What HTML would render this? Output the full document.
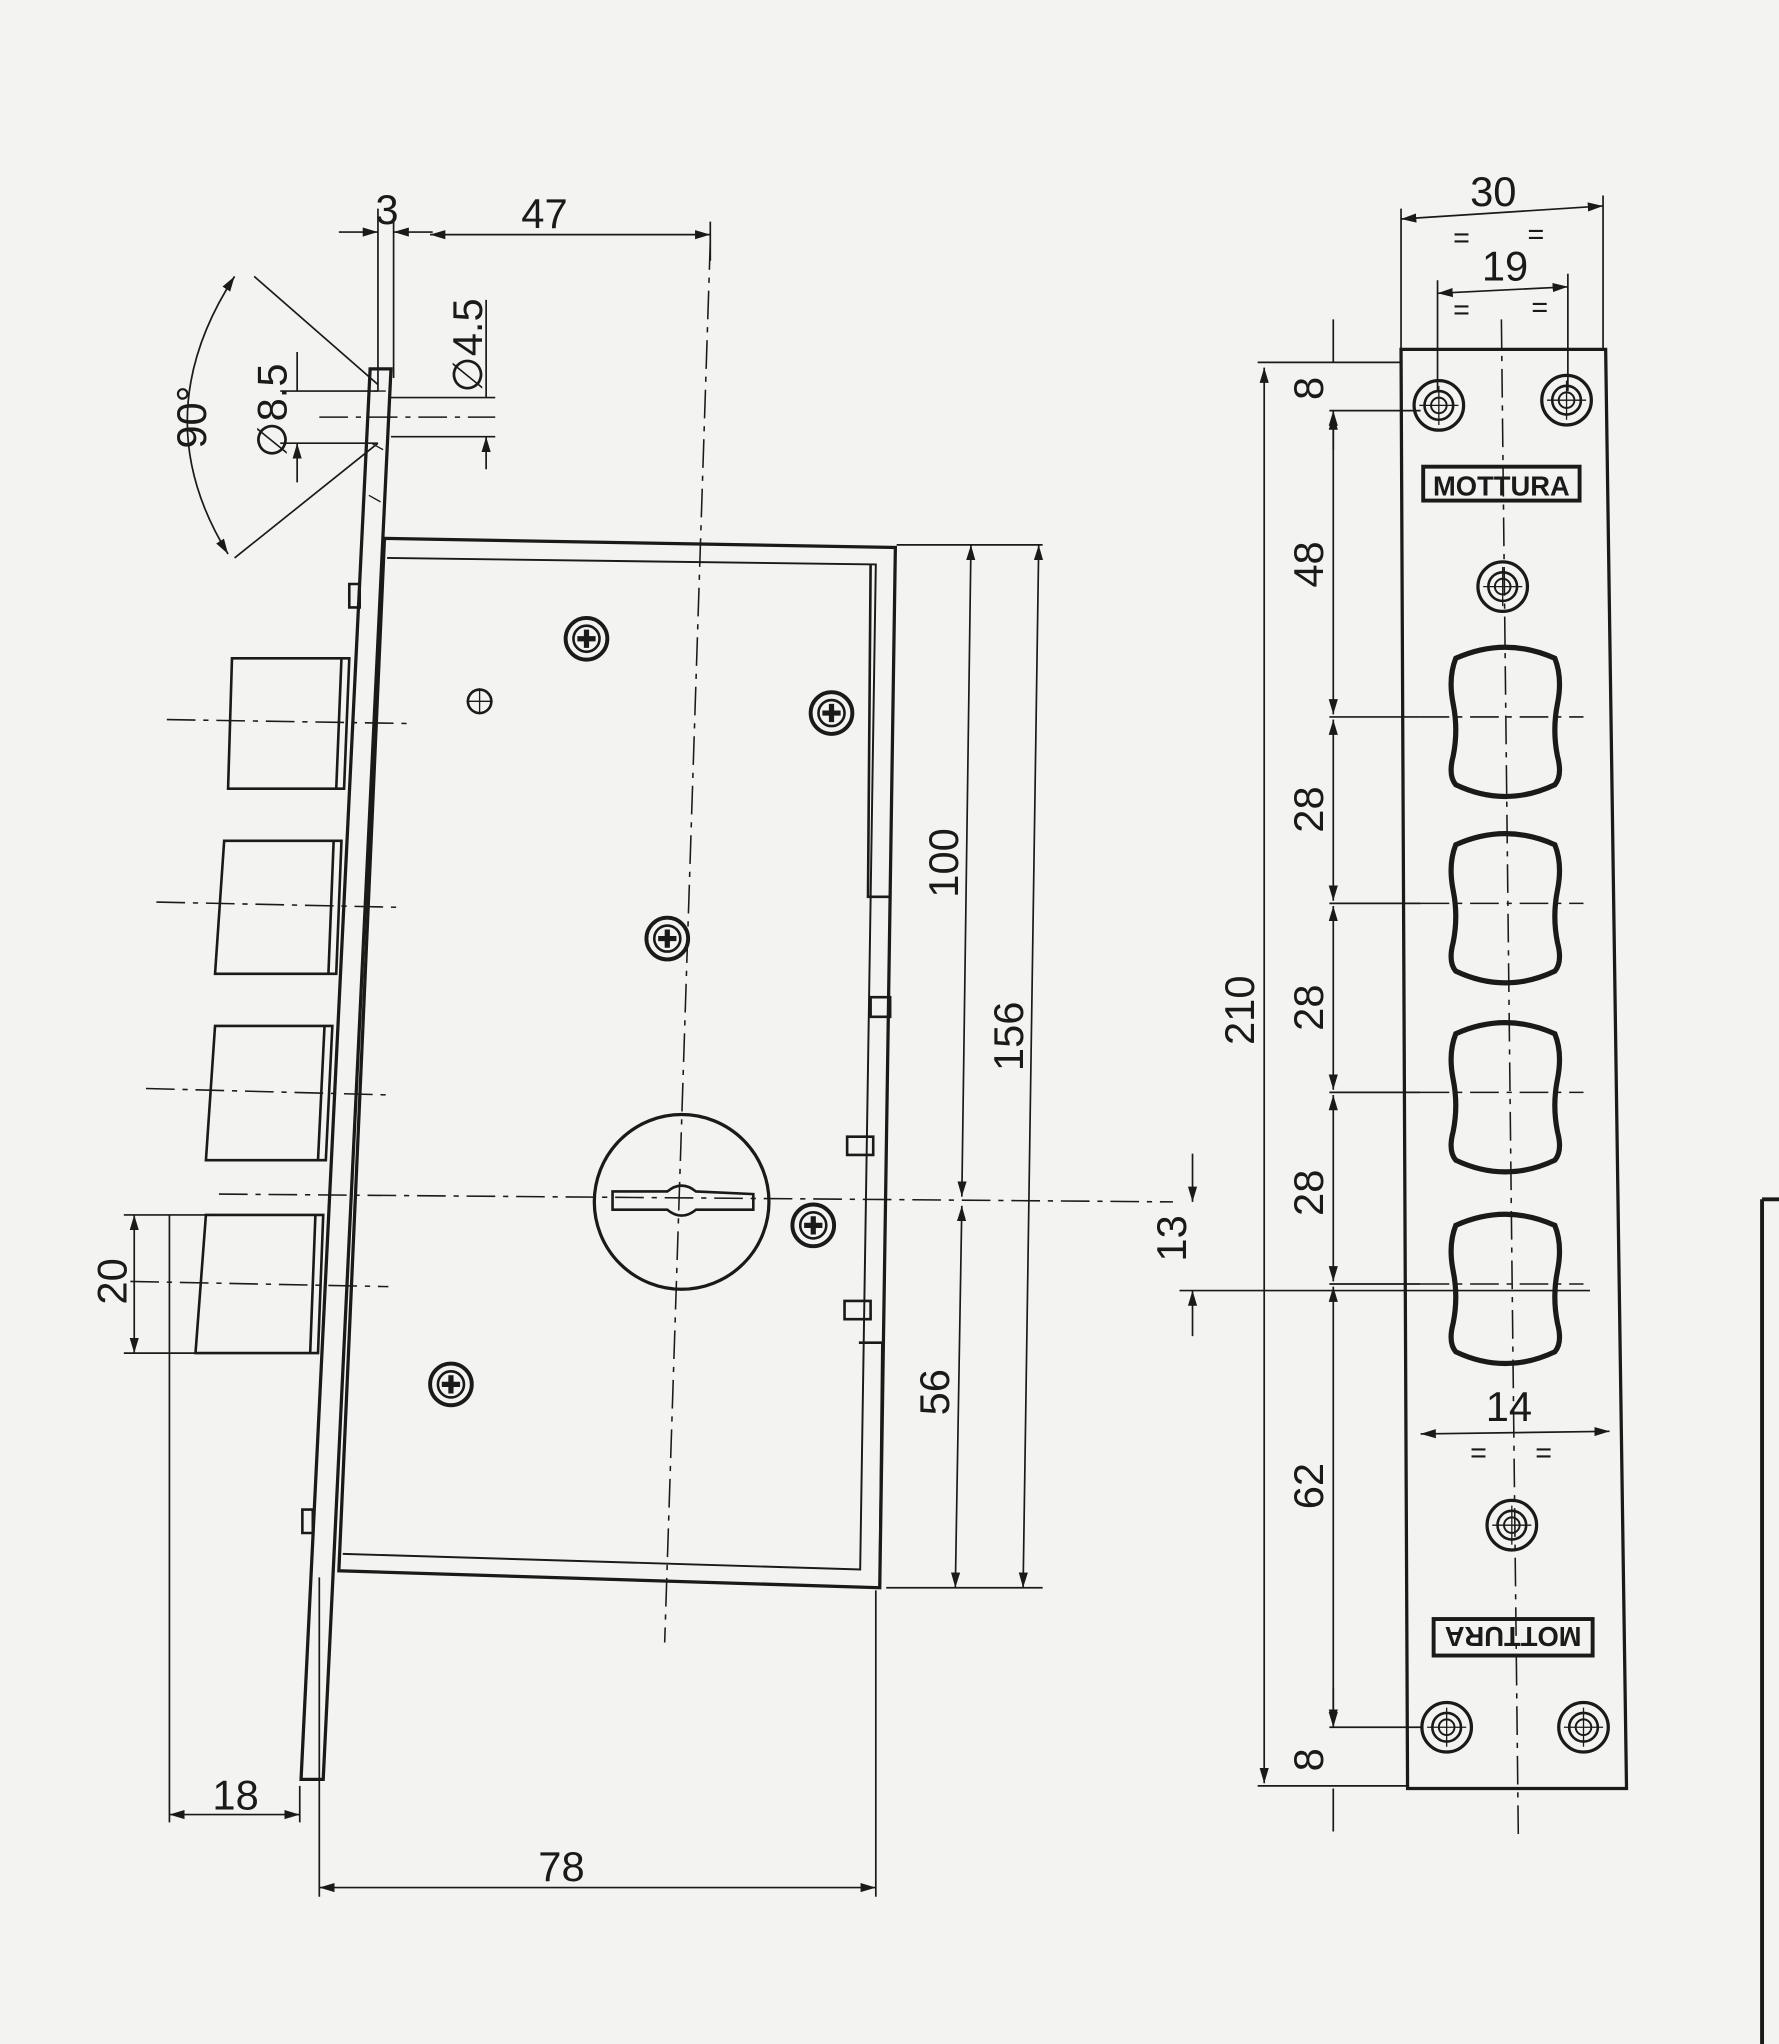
<!DOCTYPE html>
<html><head><meta charset="utf-8"><style>
html,body{margin:0;padding:0;background:#f3f3f1;}
svg{display:block;}
text{font-family:"Liberation Sans",sans-serif;fill:#1a1a1a;}
</style></head><body>
<svg width="1779" height="2044" viewBox="0 0 1365 1568" preserveAspectRatio="none" xmlns="http://www.w3.org/2000/svg">
<defs>
<marker id="a" viewBox="0 0 10 10" refX="10" refY="5" markerWidth="9" markerHeight="9" orient="auto-start-reverse"><path d="M0,2 L10,5 L0,8 z" fill="#1a1a1a"/></marker>
<g id="scr"><circle r="16" fill="none" stroke="#1a1a1a" stroke-width="3"/><circle r="10" fill="none" stroke="#1a1a1a" stroke-width="2"/><path d="M-7,0H7M0,-7V7" stroke="#1a1a1a" stroke-width="4"/></g>
<g id="hole"><circle r="19" fill="none" stroke="#1a1a1a" stroke-width="2.5"/><circle r="11" fill="none" stroke="#1a1a1a" stroke-width="2"/><circle r="6" fill="none" stroke="#1a1a1a" stroke-width="1.5"/><path d="M-15,0H15M0,-15V15" stroke="#1a1a1a" stroke-width="1"/></g>
<g id="slot"><path d="M-38,-45 Q0,-62 38,-45 Q44,-30 40,-10 Q36,10 40,30 Q44,45 38,52 Q0,70 -38,52 Q-44,45 -40,30 Q-36,10 -40,-10 Q-44,-30 -38,-45z" fill="none" stroke="#1a1a1a" stroke-width="4"/></g>
</defs>
<g stroke="#1a1a1a" fill="none" stroke-width="2">
<polygon points="284,283 300,283 248,1365 231,1365" stroke-width="2.5"/>
<path d="M287,300 L296,300 M285,340 L294,345 M283,380 L292,385" stroke-width="1"/>
<polygon points="295,413 687,420 675,1218 260,1205" stroke-width="2.5"/>
<polyline points="297,428 672,433 660,1204 263,1192" stroke-width="1.5"/>
<path d="M668,433 L666,688 L684,688 M659,1030 L677,1030 L675,1218" stroke-width="2"/>
<path d="M668,765 h15 v15 h-15 z M650,872 h20 v14 h-20 z M648,998 h20 v14 h-20 z M268,448 h8 v18 h-8 z M232,1158 h8 v18 h-8 z" stroke-width="2"/>
<polygon points="178,505 268,505 264,605 175,605"/><path d="M262,505 L258,605" />
<polygon points="172,645 262,645 258,747 165,747"/><path d="M256,645 L252,747"/>
<polygon points="165,787 255,787 250,890 158,890"/><path d="M249,787 L244,890"/>
<polygon points="158,932 248,932 244,1038 150,1038"/><path d="M242,932 L238,1038"/>
<g stroke-dasharray="22,6,4,6" stroke-width="1.2">
<path d="M128,552 L312,555"/><path d="M120,692 L305,696"/><path d="M112,835 L300,840"/><path d="M100,983 L298,987"/>
<path d="M168,916 L900,922"/><path d="M545,185 L510,1260"/><path d="M245,320 L380,320"/>
<path d="M1152,245 L1165,1410"/>
<path d="M1090,550 L1215,550 M1090,693 L1215,693 M1090,838 L1215,838 M1090,985 L1215,985"/>
</g>
<circle cx="523" cy="922" r="67" stroke-width="2.5"/>
<path d="M470,914 L512,914 Q523,905 534,914 L578,916 L578,928 L534,928 Q523,937 512,928 L470,928 z" stroke-width="2"/>
<g stroke-width="1.3">
<path d="M290,160 L290,300 M302,170 L302,290 M545,170 L545,200"/>
<path d="M260,178 L290,178" marker-end="url(#a)"/>
<path d="M330,180 L545,180" marker-start="url(#a)" marker-end="url(#a)"/>
<path d="M332,178 L302,178" marker-end="url(#a)"/>
<path d="M195,212 L290,295 M180,428 L290,340"/>
<path d="M180,212 Q110,320 175,425" marker-start="url(#a)" marker-end="url(#a)"/>
<path d="M215,300 L290,300 M215,340 L290,340"/>
<path d="M228,270 L228,300 M228,370 L228,340" marker-end="url(#a)"/>
<path d="M300,305 L380,305 M300,335 L380,335"/>
<path d="M373,230 L373,305 M373,360 L373,335" marker-end="url(#a)"/>
<path d="M688,418 L800,418 M680,1218 L800,1218"/>
<path d="M745,418 L738,918" marker-start="url(#a)" marker-end="url(#a)"/>
<path d="M797,418 L785,1218" marker-start="url(#a)" marker-end="url(#a)"/>
<path d="M738,925 L733,1218" marker-start="url(#a)" marker-end="url(#a)"/>
<path d="M95,932 L160,932 M95,1038 L152,1038"/>
<path d="M103,932 L103,1038" marker-start="url(#a)" marker-end="url(#a)"/>
<path d="M130,932 L130,1398 M230,1370 L230,1398"/>
<path d="M130,1392 L230,1392" marker-start="url(#a)" marker-end="url(#a)"/>
<path d="M245,1210 L245,1455 M672,1220 L672,1455"/>
<path d="M245,1448 L672,1448" marker-start="url(#a)" marker-end="url(#a)"/>
<path d="M905,990 L1220,990"/>
<path d="M915,885 L915,922" marker-end="url(#a)"/>
<path d="M915,1025 L915,990" marker-end="url(#a)"/>
<path d="M1075,160 L1075,268 M1230,150 L1230,268 M1103,215 L1103,300 M1203,210 L1203,300"/>
<path d="M1075,168 L1230,158" marker-start="url(#a)" marker-end="url(#a)"/>
<path d="M1103,225 L1203,220" marker-start="url(#a)" marker-end="url(#a)"/>
<path d="M965,278 L1075,278 M1020,315 L1090,315 M1020,550 L1090,550 M1020,693 L1090,693 M1020,838 L1090,838 M1020,985 L1090,985 M1020,1325 L1090,1325 M965,1370 L1080,1370"/>
<path d="M970,282 L970,1368" marker-start="url(#a)" marker-end="url(#a)"/>
<path d="M1023,245 L1023,278 M1023,345 L1023,315" marker-end="url(#a)"/>
<path d="M1023,318 L1023,548" marker-start="url(#a)" marker-end="url(#a)"/>
<path d="M1023,552 L1023,691" marker-start="url(#a)" marker-end="url(#a)"/>
<path d="M1023,695 L1023,836" marker-start="url(#a)" marker-end="url(#a)"/>
<path d="M1023,840 L1023,983" marker-start="url(#a)" marker-end="url(#a)"/>
<path d="M1023,987 L1023,1323" marker-start="url(#a)" marker-end="url(#a)"/>
<path d="M1023,1405 L1023,1372 M1023,1295 L1023,1325" marker-end="url(#a)"/>
<path d="M1090,1100 L1235,1098" marker-start="url(#a)" marker-end="url(#a)"/>
</g>
<polygon points="1075,268 1232,268 1248,1372 1080,1372" stroke-width="2.5"/>
<rect x="1092" y="358" width="120" height="26" stroke-width="3"/>
<rect x="1100" y="1242" width="122" height="28" stroke-width="3"/>
<path d="M1352,920 L1365,920 M1352,920 L1352,1568" stroke-width="3"/>
</g>
<use href="#scr" x="450" y="490"/><use href="#scr" x="638" y="547"/><use href="#scr" x="512" y="720"/><use href="#scr" x="624" y="940"/><use href="#scr" x="346" y="1062"/>
<g stroke="#1a1a1a" fill="none"><circle cx="368" cy="538" r="9" stroke-width="2"/><path d="M358,538h20M368,528v20" stroke-width="1"/></g>
<use href="#hole" x="1104" y="311"/><use href="#hole" x="1202" y="307"/><use href="#hole" x="1153" y="450"/><use href="#hole" x="1160" y="1170"/><use href="#hole" x="1110" y="1325"/><use href="#hole" x="1215" y="1325"/>
<use href="#slot" x="1155" y="550"/><use href="#slot" x="1155" y="693"/><use href="#slot" x="1155" y="838"/><use href="#slot" x="1155" y="985"/>
<text x="1152" y="380" font-size="21" font-weight="bold" text-anchor="middle">MOTTURA</text>
<text x="1161" y="1264" font-size="21" font-weight="bold" text-anchor="middle" transform="rotate(180 1161 1256)">MOTTURA</text>
<g font-size="32">
<text x="288" y="172">3</text><text x="400" y="175">47</text>
<text transform="translate(158,320) rotate(-90)" text-anchor="middle">90°</text>
<text transform="translate(220,315) rotate(-90)" text-anchor="middle">∅8.5</text>
<text transform="translate(370,265) rotate(-90)" text-anchor="middle">∅4.5</text>
<text transform="translate(735,662) rotate(-90)" text-anchor="middle">100</text>
<text transform="translate(785,795) rotate(-90)" text-anchor="middle">156</text>
<text transform="translate(728,1068) rotate(-90)" text-anchor="middle">56</text>
<text transform="translate(97,983) rotate(-90)" text-anchor="middle">20</text>
<text x="163" y="1388">18</text><text x="413" y="1443">78</text>
<text transform="translate(910,950) rotate(-90)" text-anchor="middle">13</text>
<text transform="translate(962,775) rotate(-90)" text-anchor="middle">210</text>
<text transform="translate(1015,298) rotate(-90)" text-anchor="middle">8</text>
<text transform="translate(1015,433) rotate(-90)" text-anchor="middle">48</text>
<text transform="translate(1015,621) rotate(-90)" text-anchor="middle">28</text>
<text transform="translate(1015,773) rotate(-90)" text-anchor="middle">28</text>
<text transform="translate(1015,915) rotate(-90)" text-anchor="middle">28</text>
<text transform="translate(1015,1140) rotate(-90)" text-anchor="middle">62</text>
<text transform="translate(1015,1350) rotate(-90)" text-anchor="middle">8</text>
<text x="1128" y="158">30</text><text x="1137" y="215">19</text><text x="1140" y="1090">14</text>
</g>
<g font-size="22"><text x="1115" y="190">=</text><text x="1172" y="187">=</text><text x="1115" y="245">=</text><text x="1175" y="243">=</text><text x="1128" y="1122">=</text><text x="1178" y="1122">=</text></g>
</svg>
</body></html>
